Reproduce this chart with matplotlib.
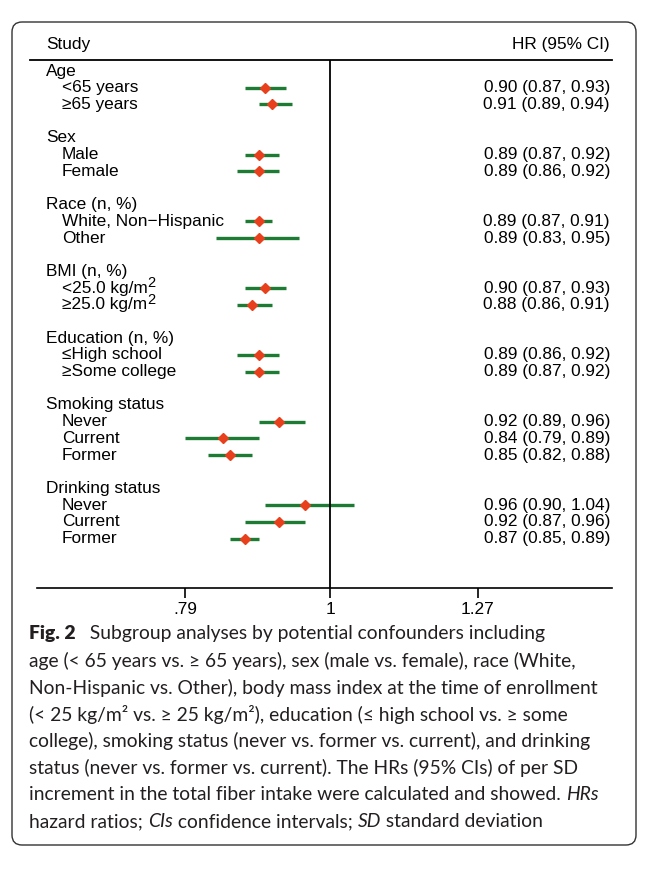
import matplotlib.pyplot as plt
from matplotlib.patches import FancyBboxPatch
from matplotlib.lines import Line2D

plt.rcParams['font.family'] = ['Liberation Sans', 'DejaVu Sans']

groups = ['Age', 'Sex', 'Race (n, %)', 'BMI (n, %)', 'Education (n, %)',
          'Smoking status', 'Drinking status']
subgroups = [['<65 years', '≥65 years'],
             ['Male', 'Female'],
             ['White, Non\u2212Hispanic', 'Other'],
             ['<25.0 kg/m^2', '≥25.0 kg/m^2'],
             ['≤High school', '≥Some college'],
             ['Never', 'Current', 'Former'],
             ['Never', 'Current', 'Former']]
hr = [[0.90, 0.91], [0.89, 0.89], [0.89, 0.89], [0.90, 0.88],
      [0.89, 0.89], [0.92, 0.84, 0.85], [0.96, 0.92, 0.87]]
lo = [[0.87, 0.89], [0.87, 0.86], [0.87, 0.83], [0.87, 0.86],
      [0.86, 0.87], [0.89, 0.79, 0.82], [0.90, 0.87, 0.85]]
hi = [[0.93, 0.94], [0.92, 0.92], [0.91, 0.95], [0.93, 0.91],
      [0.92, 0.92], [0.96, 0.89, 0.88], [1.04, 0.96, 0.89]]
xticks = [0.79, 1, 1.27]
xticklabels = ['.79', '1', '1.27']

fig = plt.figure(figsize=(6.53, 8.71), dpi=100)
renderer = fig.canvas.get_renderer()
ax = fig.add_axes([37 / 653, 1 - 588 / 871, 575 / 653, 528 / 871])
ax.set_xscale('log')
ax.set_xlim(0.621, 1.58)
ax.set_ylim(30.96, -0.66)

fs = 12.4
green = '#1e7b34'
red = '#e8401c'
ytr = ax.get_yaxis_transform()


def row_label(x, row, s):
    # "^2" marks a raised 2 drawn as its own text
    if '^' in s:
        base, sup = s.split('^')
        t = ax.text(x, row, base, transform=ytr, va='center', ha='left', fontsize=fs)
        w = t.get_window_extent(renderer=renderer).width / ax.bbox.width
        ax.text(x + w, row - 0.3, sup, transform=ytr, va='center', ha='left',
                fontsize=fs * 0.85)
    else:
        ax.text(x, row, s, transform=ytr, va='center', ha='left', fontsize=fs)


row = 0
for g, subs, h, l, u in zip(groups, subgroups, hr, lo, hi):
    row_label(0.0157, row, g)
    row += 1
    for s, hv, lv, uv in zip(subs, h, l, u):
        row_label(0.043, row, s)
        ax.plot([lv, uv], [row, row], color=green, lw=2.4, solid_capstyle='butt')
        ax.plot(hv, row, marker='D', color=red, markersize=5, mec=red)
        ax.text(0.9965, row, f'{hv:.2f} ({lv:.2f}, {uv:.2f})', transform=ytr,
                va='center', ha='right', fontsize=fs)
        row += 1
    row += 1

ax.axvline(1, color='black', lw=1.3)

for side in ['top', 'left', 'right']:
    ax.spines[side].set_visible(False)
ax.spines['bottom'].set_linewidth(1.2)
ax.set_yticks([])
ax.set_xticks(xticks)
ax.set_xticklabels(xticklabels, fontsize=fs)
ax.minorticks_off()
ax.tick_params(axis='x', length=7, width=1.2, pad=3)

# header
fig.add_artist(Line2D([30 / 653, 612 / 653], [1 - 60 / 871] * 2,
                      color='black', lw=1.3))
fig.text(46 / 653, 1 - 45 / 871, 'Study', fontsize=fs, va='center', ha='left')
fig.text(610 / 653, 1 - 45 / 871, 'HR (95% CI)', fontsize=fs, va='center', ha='right')

# border
fig.add_artist(FancyBboxPatch((0.12, 0.26), 6.24, 8.23,
                              boxstyle='round,pad=0,rounding_size=0.1',
                              transform=fig.dpi_scale_trans,
                              fill=False, ec='#333333', lw=1.0))

# caption
cap_lines = [
    [('Fig. 2', 'bold'), ('  Subgroup analyses by potential confounders including', 'normal')],
    [('age (< 65 years vs. ≥ 65 years), sex (male vs. female), race (White,', 'normal')],
    [('Non-Hispanic vs. Other), body mass index at the time of enrollment', 'normal')],
    [('(< 25 kg/m² vs. ≥ 25 kg/m²), education (≤ high school vs. ≥ some', 'normal')],
    [('college), smoking status (never vs. former vs. current), and drinking', 'normal')],
    [('status (never vs. former vs. current). The HRs (95% CIs) of per SD', 'normal')],
    [('increment in the total fiber intake were calculated and showed. ', 'normal'),
     ('HRs', 'italic')],
    [('hazard ratios; ', 'normal'), ('CIs', 'italic'), (' confidence intervals; ', 'normal'),
     ('SD', 'italic'), (' standard deviation', 'normal')],
]
cap_font = ['Lato', 'DejaVu Sans']
cap_fs = 13.9
y = 634
for parts in cap_lines:
    x = 29
    for txt, style in parts:
        t = fig.text(x / 653, 1 - y / 871, txt, fontsize=cap_fs, family=cap_font,
                     fontweight='heavy' if style == 'bold' else 'normal',
                     fontstyle='italic' if style == 'italic' else 'normal',
                     va='center', ha='left', color='#231f20')
        x += t.get_window_extent(renderer=renderer).width
        if style == 'bold':
            x += 4
    y += 26.8

fig.savefig('out.png', dpi=100)
